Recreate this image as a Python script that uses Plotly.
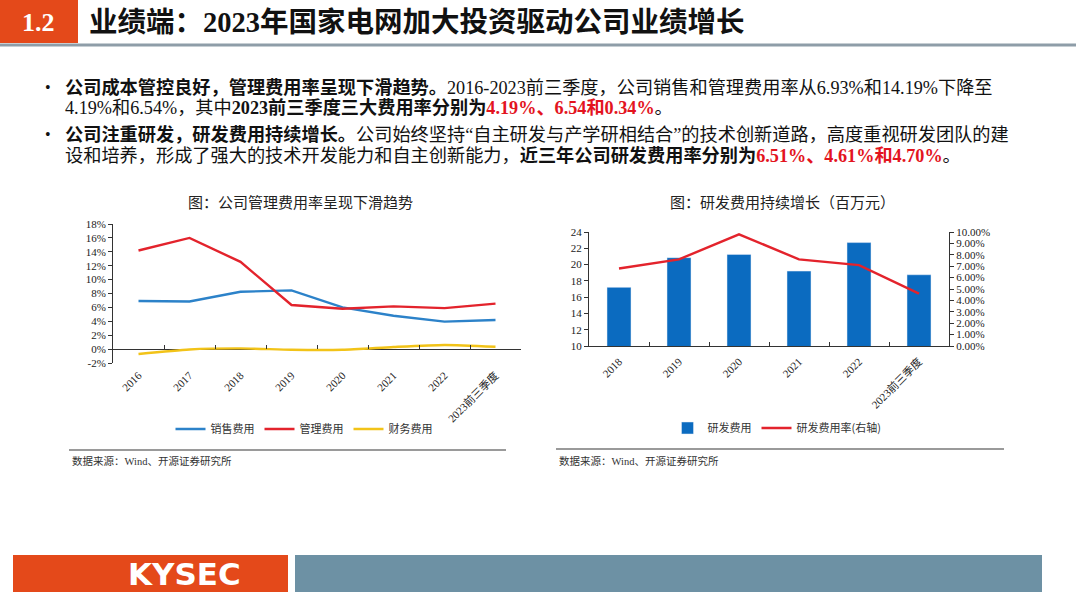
import plotly.graph_objects as go

W, H = 1080, 607

# ---------------- data ----------------
years_left = ["2016", "2017", "2018", "2019", "2020", "2021", "2022", "2023前三季度"]
sales_rate = [6.93, 6.85, 8.25, 8.45, 6.00, 4.80, 3.95, 4.19]
admin_rate = [14.19, 16.00, 12.55, 6.35, 5.80, 6.15, 5.90, 6.54]
fin_rate = [-0.70, -0.05, 0.10, -0.10, -0.10, 0.30, 0.60, 0.34]

years_right = ["2018", "2019", "2020", "2021", "2022", "2023前三季度"]
rd_expense = [17.2, 20.85, 21.25, 19.2, 22.7, 18.75]
rd_rate = [6.8, 7.6, 9.8, 7.6, 7.1, 4.6]

left_yticks = [-2, 0, 2, 4, 6, 8, 10, 12, 14, 16, 18]
right_yticks = [10, 12, 14, 16, 18, 20, 22, 24]
right_y2ticks = [0, 1, 2, 3, 4, 5, 6, 7, 8, 9, 10]

# ---------------- helpers ----------------
def px(x):
    return x / W

def py(y):
    return 1 - y / H

SERIF = "Liberation Serif, Noto Sans CJK SC"
CJK = "Noto Sans CJK SC, Liberation Serif"
BLUE = "#2C82C9"
RED = "#E3232C"
YEL = "#F2C318"
BAR = "#0B6BC0"
ORANGE = "#E4491A"
SLATE = "#6D91A4"

L_X = [px(113), px(521)]
L_Y = [py(363), py(224)]
R_X = [px(589), px(949)]
R_Y = [py(346), py(232)]

L_RANGE = [-0.5, len(years_left) - 0.5]
R_RANGE = [-0.5, len(years_right) - 0.5]

fig = go.Figure()

# left chart lines
fig.add_trace(go.Scatter(x=years_left, y=sales_rate, mode="lines", name="销售费用",
                         line=dict(color=BLUE, width=2.4), xaxis="x", yaxis="y", legend="legend"))
fig.add_trace(go.Scatter(x=years_left, y=admin_rate, mode="lines", name="管理费用",
                         line=dict(color=RED, width=2.4), xaxis="x", yaxis="y", legend="legend"))
fig.add_trace(go.Scatter(x=years_left, y=fin_rate, mode="lines", name="财务费用",
                         line=dict(color=YEL, width=2.4, shape="spline", smoothing=0.6),
                         xaxis="x", yaxis="y", legend="legend"))
# helper trace for tick marks on the zero line
fig.add_trace(go.Scatter(x=years_left, y=[None] * len(years_left), mode="lines",
                         showlegend=False, hoverinfo="skip", xaxis="x3", yaxis="y"))

# right chart
fig.add_trace(go.Bar(x=years_right, y=rd_expense, name="研发费用", marker=dict(color=BAR),
                     width=0.4, xaxis="x2", yaxis="y2", legend="legend2"))
fig.add_trace(go.Scatter(x=years_right, y=rd_rate, mode="lines", name="研发费用率(右轴)",
                         line=dict(color=RED, width=2.4), xaxis="x2", yaxis="y3", legend="legend2"))

tickfont = dict(family=SERIF, size=11, color="#222")

zero_pos = L_Y[0] + (0 - left_yticks[0]) / (left_yticks[-1] - left_yticks[0]) * (L_Y[1] - L_Y[0])

fig.update_layout(
    width=W, height=H,
    margin=dict(l=0, r=0, t=0, b=0, pad=0, autoexpand=False),
    paper_bgcolor="white", plot_bgcolor="white",
    showlegend=True,
    font=dict(family=SERIF, color="#222"),
    xaxis=dict(domain=L_X, anchor="y", type="category", tickangle=-45, tickfont=tickfont,
               range=L_RANGE,
               showline=False, ticks="", showgrid=False, zeroline=False, automargin=False,
               categoryorder="array", categoryarray=years_left, ticklabelstandoff=3),
    xaxis3=dict(overlaying="x", anchor="free", position=zero_pos, type="category",
                categoryorder="array", categoryarray=years_left, automargin=False, range=L_RANGE,
                showticklabels=False, ticks="inside", tickson="boundaries", ticklen=4,
                tickcolor="#333", showline=False, showgrid=False, zeroline=False),
    yaxis=dict(domain=L_Y, anchor="x", range=[left_yticks[0], left_yticks[-1]],
               tickvals=left_yticks, ticktext=[f"{v}%" for v in left_yticks], automargin=False,
               tickfont=tickfont, showline=True, linecolor="#333", linewidth=1,
               ticks="outside", ticklen=4, tickcolor="#333", showgrid=False,
               zeroline=True, zerolinecolor="#333", zerolinewidth=1),
    xaxis2=dict(domain=R_X, anchor="y2", type="category", tickangle=-45, tickfont=tickfont,
                range=R_RANGE,
                showline=True, linecolor="#333", linewidth=1, ticks="inside", automargin=False,
                tickson="boundaries", ticklen=4, tickcolor="#333", showgrid=False,
                categoryorder="array", categoryarray=years_right, ticklabelstandoff=4),
    yaxis2=dict(domain=R_Y, anchor="x2", range=[right_yticks[0], right_yticks[-1]],
                tickvals=right_yticks, tickfont=tickfont, showline=True, linecolor="#333",
                linewidth=1, ticks="outside", ticklen=4, tickcolor="#333", showgrid=False,
                zeroline=False, automargin=False),
    yaxis3=dict(overlaying="y2", anchor="x2", side="right", automargin=False,
                range=[right_y2ticks[0], right_y2ticks[-1]], tickvals=right_y2ticks,
                ticktext=[f"{v:.2f}%" for v in right_y2ticks], tickfont=tickfont,
                showline=True, linecolor="#333", linewidth=1, ticks="outside", ticklen=4,
                tickcolor="#333", showgrid=False, zeroline=False),
    legend=dict(orientation="h", x=px(304), y=py(429), xanchor="center", yanchor="middle",
                font=dict(family=CJK, size=11, color="#333"), itemwidth=30,
                bgcolor="rgba(0,0,0,0)", tracegroupgap=0),
    legend2=dict(orientation="h", x=px(777), y=py(428), xanchor="center", yanchor="middle",
                 font=dict(family=CJK, size=11, color="#333"), itemwidth=30,
                 bgcolor="rgba(0,0,0,0)"),
)

shapes = [
    # header orange box
    dict(type="rect", xref="paper", yref="paper", x0=px(0), x1=px(78), y0=py(43), y1=py(0),
         fillcolor=ORANGE, line=dict(width=0), layer="below"),
    # header underline
    dict(type="line", xref="paper", yref="paper", x0=px(0), x1=px(1076), y0=py(45), y1=py(45),
         line=dict(color="#8E9DA8", width=3)),
    # source separators
    dict(type="line", xref="paper", yref="paper", x0=px(69), x1=px(506), y0=py(450), y1=py(450),
         line=dict(color="#9A9A9A", width=2)),
    dict(type="line", xref="paper", yref="paper", x0=px(556), x1=px(1004), y0=py(449), y1=py(449),
         line=dict(color="#9A9A9A", width=2)),
    # footer boxes
    dict(type="rect", xref="paper", yref="paper", x0=px(13), x1=px(288), y0=py(592), y1=py(555),
         fillcolor=ORANGE, line=dict(width=0), layer="below"),
    dict(type="rect", xref="paper", yref="paper", x0=px(295), x1=px(1042), y0=py(592), y1=py(555),
         fillcolor=SLATE, line=dict(width=0), layer="below"),
]
fig.update_layout(shapes=shapes)

RED_T = "#E3141E"
BODY = 18.2

def ann(text, x, y, size, family=CJK, color="#111", xanchor="left"):
    return dict(text=text, x=px(x), y=py(y), xref="paper", yref="paper", showarrow=False,
                xanchor=xanchor, yanchor="middle", font=dict(family=family, size=size, color=color))

annotations = [
    ann("<b>1.2</b>", 39, 22, 26, family="Liberation Serif", color="white", xanchor="center"),
    ann("<b>业绩端：2023年国家电网加大投资驱动公司业绩增长</b>", 87, 22, 28.5,
        family="Liberation Serif, Noto Sans CJK SC"),
    ann("•", 43, 88, 16, family=SERIF),
    ann("<b>公司成本管控良好，管理费用率呈现下滑趋势。</b>2016-2023前三季度，公司销售和管理费用率从6.93%和14.19%下降至",
        63, 88, BODY, family=SERIF),
    ann("4.19%和6.54%，其中<b>2023前三季度三大费用率分别为</b>"
        f"<span style='color:{RED_T}'><b>4.19%、6.54和0.34%</b></span>。",
        63, 108, BODY, family=SERIF),
    ann("•", 43, 134, 16, family=SERIF),
    ann("<b>公司注重研发，研发费用持续增长。</b>公司始终坚持“自主研发与产学研相结合”的技术创新道路，高度重视研发团队的建",
        63, 134, BODY, family=SERIF),
    ann("设和培养，形成了强大的技术开发能力和自主创新能力，<b>近三年公司研发费用率分别为</b>"
        f"<span style='color:{RED_T}'><b>6.51%、4.61%和4.70%</b></span>。",
        63, 155, BODY, family=SERIF),
    ann("图：公司管理费用率呈现下滑趋势", 300, 201, 15, family=CJK, color="#222", xanchor="center"),
    ann("图：研发费用持续增长（百万元）", 782, 201, 15, family=CJK, color="#222", xanchor="center"),
    ann("数据来源：Wind、开源证券研究所", 70, 461, 10.5, family=SERIF, color="#333"),
    ann("数据来源：Wind、开源证券研究所", 557, 461, 10.5, family=SERIF, color="#333"),
    ann("<b>KYSEC</b>", 184, 574, 31, family="DejaVu Sans", color="white", xanchor="center"),
]
fig.update_layout(annotations=annotations)

fig.write_html("out.html")
